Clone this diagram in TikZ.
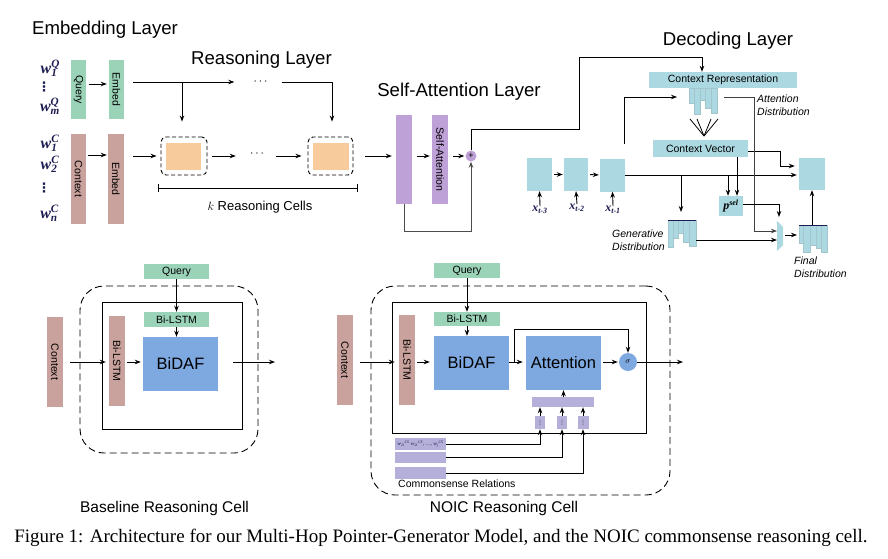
\documentclass[tikz,border=0pt]{standalone}
\usepackage{fontspec}
\setmainfont{Liberation Serif}
\setsansfont{Liberation Sans}
\newfontfamily\dotsfont{DejaVu Sans}
\usetikzlibrary{arrows.meta}

\definecolor{qgreen}{RGB}{155,211,185}
\definecolor{cbrown}{RGB}{201,161,157}
\definecolor{corange}{RGB}{247,203,155}
\definecolor{spurple}{RGB}{190,161,214}
\definecolor{dblue}{RGB}{172,216,225}
\definecolor{bblue}{RGB}{126,168,224}
\definecolor{lav}{RGB}{180,176,218}
\definecolor{navy}{RGB}{28,28,80}

\newcommand{\csw}[1]{w\textsubscript{#1}\textsuperscript{CS}}

\tikzset{
	box/.style={inner sep=0, font=\sffamily\fontsize{10.5}{11}\selectfont},
	vbox/.style={box, rotate=-90},
	arr/.style={-{Stealth[length=6pt,width=4.5pt]}, line width=.9pt},
	ln/.style={line width=.9pt},
	cell/.style={draw, dash pattern=on 4pt off 2.5pt, rounded corners=5pt, line width=.9pt},
	bigcell/.style={draw, dash pattern=on 7pt off 4pt, rounded corners=24pt, line width=.9pt},
	bar/.style={fill=dblue, draw=dblue!80!gray, line width=.4pt},
	lay/.style={font=\sffamily\fontsize{18.6}{20}\selectfont},
	dist/.style={font=\sffamily\itshape\fontsize{10.5}{13}\selectfont, align=left, anchor=west, inner sep=0},
	wlab/.style={font=\bfseries\itshape\fontsize{16}{16}\selectfont, text=navy, inner sep=0},
	wdots/.style={font=\dotsfont\bfseries\fontsize{13}{13}\selectfont, text=navy, inner sep=0},
	xlab/.style={font=\bfseries\itshape\fontsize{12}{13}\selectfont, text=navy, inner sep=0},
}

\begin{document}
\begin{tikzpicture}[x=1pt,y=-1pt]
	\path[use as bounding box] (0,0) rectangle (888,559);

	% embedding layer
	\node[lay] at (105,30) {Embedding Layer};
	\node[wlab] (wq1) at (49,68) {w\rlap{\textsuperscript{Q}}\textsubscript{1}};
	\node[wdots] (wqd) at (44,87) {⋮};
	\node[wlab] (wqm) at (50,106) {w\rlap{\textsuperscript{Q}}\textsubscript{m}};
	\node[wlab] (wc1) at (49,143) {w\rlap{\textsuperscript{C}}\textsubscript{1}};
	\node[wlab] (wc2) at (49,164) {w\rlap{\textsuperscript{C}}\textsubscript{2}};
	\node[wdots] (wcd) at (44,188) {⋮};
	\node[wlab] (wcn) at (49,213) {w\rlap{\textsuperscript{C}}\textsubscript{n}};

	\node[vbox, fill=qgreen, minimum width=59, minimum height=15] (query) at (78.5,89.5) {Query};
	\node[vbox, fill=qgreen, minimum width=59, minimum height=15] (qembed) at (116.5,89.5) {Embed};
	\node[vbox, fill=cbrown, minimum width=90, minimum height=15] (context) at (78.5,179) {Context};
	\node[vbox, fill=cbrown, minimum width=90, minimum height=16] (cembed) at (116,179) {Embed};

	\draw[arr, shorten <=3pt, shorten >=2pt] (query.north |- 0,84) -- (qembed.south |- 0,84);
	\draw[arr, shorten <=2pt, shorten >=1pt] (context.north |- 0,155) -- (cembed.south |- 0,155);

	% reasoning layer
	\node[lay] at (261.5,60) {Reasoning Layer};
	\node[cell, minimum width=46, minimum height=38] (cell1) at (184,156) {};
	\node[fill=corange, minimum width=35, minimum height=27, inner sep=0] (rc1) at (183.5,156.5) {};
	\node[cell, minimum width=45, minimum height=38] (cell2) at (330.5,156) {};
	\node[fill=corange, minimum width=36, minimum height=27, inner sep=0] (rc2) at (331,156.5) {};
	\node[inner sep=0, font=\fontsize{12}{12}\selectfont] (qdots) at (260.5,82) {$\cdots$};
	\node[inner sep=0, font=\fontsize{12}{12}\selectfont] (cdots) at (257,154) {$\cdots$};

	\draw[arr, shorten <=9pt, shorten >=19pt] (qembed.north |- qdots.west) -- (qdots.west);
	\draw[arr, shorten >=15pt] ([xshift=-2pt]cell1.north |- qdots.west) -- ([xshift=-2pt]cell1.north);
	\draw[arr, shorten <=14pt, shorten >=15pt] (qdots.east) -| ([xshift=1.5pt]cell2.north);
	\draw[arr, shorten <=9pt, shorten >=4pt] (cembed.north |- cell1.west) -- (cell1.west);
	\draw[arr, shorten <=5pt, shorten >=14pt] (cell1.east) -- (cdots.west |- cell1.east);
	\draw[arr, shorten <=12pt, shorten >=6pt] (cdots.east |- cell2.west) -- (cell2.west);

	\draw[ln, {Bar[width=8pt]}-{Bar[width=8pt]}] (158,188) -- (358,188);
	\node[font=\sffamily\fontsize{13}{14}\selectfont] at (260,207) {$k$ Reasoning Cells};

	% self-attention layer
	\node[lay] at (459,92) {Self-Attention Layer};
	\node[vbox, fill=spurple, minimum width=89, minimum height=16] (sa1) at (404,159.5) {};
	\node[vbox, fill=spurple, minimum width=89, minimum height=16] (sa2) at (440,159.5) {Self-Attention};
	\node[circle, fill=spurple, minimum size=11, inner sep=0, font=\sffamily\fontsize{9}{9}\selectfont] (plus) at (471,156) {+};

	\draw[arr, shorten <=12pt, shorten >=4pt] (cell2.east) -- (sa1.south |- cell2.east);
	\draw[arr, shorten <=5pt, shorten >=2pt] (sa1.north |- plus) -- (sa2.south |- plus);
	\draw[arr, shorten <=5pt, shorten >=1pt] (sa2.north |- plus) -- (plus.west);
	\draw[arr, draw=black!70] (sa1.east) -- ++(0,27) -| (plus.south);

	% decoding layer
	\node[lay] at (728,41) {Decoding Layer};
	\node[box, fill=dblue, minimum width=148, minimum height=16] (crep) at (723,80) {Context Representation};
	\node[box, fill=dblue, minimum width=95, minimum height=17] (cvec) at (700.5,148.5) {Context Vector};
	\node[box, fill=dblue, minimum width=25, minimum height=33] (xt3) at (539.5,174.5) {};
	\node[box, fill=dblue, minimum width=24, minimum height=33] (xt2) at (576,174.5) {};
	\node[box, fill=dblue, minimum width=25, minimum height=33] (xt1) at (612.5,175) {};
	\node[box, fill=dblue, minimum width=26, minimum height=32] (outb) at (812,174) {};
	\node[box, fill=dblue, minimum width=24, minimum height=20] (psel) at (731,206) {\bfseries\itshape\rmfamily\fontsize{12}{12}\selectfont p\textsuperscript{sel}};
	\node[xlab] (lx3) at (540,210) {x\textsubscript{t-3}};
	\node[xlab] (lx2) at (577,208) {x\textsubscript{t-2}};
	\node[xlab] (lx1) at (613,210) {x\textsubscript{t-1}};

	% attention, generative and final distributions
	\foreach \a/\b/\h in {689/694/103, 694/700/114, 700/705/100, 705/711/108, 711/717/113}
		\draw[bar] (\a,88) rectangle (\b,\h);
	\foreach \a/\b/\h in {668/673/247, 673/678/238, 678/683/233, 683/689/242, 689/696/246}
		\draw[bar] (\a,220) rectangle (\b,\h);
	\foreach \a/\b/\h in {799/803/243, 803/810/252, 810/816/245, 816/821/248, 821/827/252}
		\draw[bar] (\a,225) rectangle (\b,\h);
	\draw[navy, line width=1pt] (668,220) -- (696,220);
	\draw[navy, line width=1pt] (799,225) -- (827,225);
	\coordinate (adw) at (689,97);
	\coordinate (ade) at (717,97);
	\coordinate (gtop) at (681,220);
	\coordinate (gout) at (696,240);
	\coordinate (ftop) at (812,225);
	\coordinate (fin) at (799,235);
	\coordinate (fan) at (704,136);
	\foreach \s in {690,697,711,718}
		\draw[line width=.8pt] (\s,119) -- (fan);

	% switch
	\fill[dblue] (777,221) -- (783,227) -- (783,245) -- (777,251) -- cycle;
	\coordinate (muxw) at (777,236);
	\coordinate (muxe) at (783,235);

	\draw[arr] (lx3.north) -- (xt3.south);
	\draw[arr] (lx2.north) -- (xt2.south);
	\draw[arr] (lx1.north) -- (xt1.south);
	\draw[arr, shorten <=2pt, shorten >=1pt] (xt3.east) -- (xt2.west);
	\draw[arr, shorten <=2pt, shorten >=1pt] (xt2.east) -- (xt1.west);
	\draw[arr, shorten >=2pt] (xt1.east) -- (outb.west |- xt1.east);
	\draw[arr, shorten >=8pt] (gtop |- xt1.east) -- (gtop);
	\draw[arr] ([xshift=-3pt]psel.north |- xt1.east) -- ([xshift=-3pt]psel.north);
	\draw[arr] ([xshift=6pt]psel.north |- cvec.south) -- ([xshift=6pt]psel.north);
	\draw[arr, shorten >=4pt] ([yshift=-2.5pt]cvec.east) -| (780,166) -- (outb.west |- 0,166);
	\draw[arr, shorten >=12pt] ([shift={(-1,-14)}]xt1.north east) |- (adw);
	\draw[arr, draw=black!75, shorten <=7pt] (ade) -| (754,231) -- (muxw |- 0,231);
	\draw[arr] (gout) -- (muxw |- gout);
	\draw[arr, shorten >=4pt] (psel.east |- 0,204) -| (779,221);
	\draw[arr, shorten <=2pt, shorten >=2pt] (muxe) -- (fin);
	\draw[arr] (ftop) -- (outb.south);
	\draw[arr] (plus.north) -- ++(0,-21) -| (579,57) -| ([xshift=-21pt]crep.north);

	\node[dist] at (757,105.5) {Attention\\Distribution};
	\node[dist] at (612,240.5) {Generative\\Distribution};
	\node[dist] at (794,267.5) {Final\\Distribution};

	% baseline reasoning cell
	\node[box, fill=qgreen, minimum width=65, minimum height=15] (bquery) at (176.5,271.5) {Query};
	\node[bigcell, minimum width=178, minimum height=167] (bcell) at (169,369.5) {};
	\node[draw, line width=.9pt, minimum width=140, minimum height=127] (binner) at (172,365.5) {};
	\node[box, fill=qgreen, minimum width=65, minimum height=15] (bbil) at (176.5,319.5) {Bi-LSTM};
	\node[box, fill=bblue, minimum width=75, minimum height=54, font=\sffamily\fontsize{16.5}{17}\selectfont] (bbidaf) at (180.5,364) {BiDAF};
	\node[vbox, fill=cbrown, minimum width=90, minimum height=16] (bbilv) at (117,361) {Bi-LSTM};
	\node[vbox, fill=cbrown, minimum width=90, minimum height=16] (bctx) at (55,362) {Context};
	\coordinate (bout) at (275,362);

	\draw[arr, shorten <=7pt, shorten >=3pt] (bctx.north) -- (bbilv.south |- bctx.north);
	\draw[arr, shorten <=2pt, shorten >=2pt] (bbilv.north |- bctx.north) -- (bbidaf.west |- bctx.north);
	\draw[arr, shorten <=15pt] (bbidaf.east |- bout) -- (bout);
	\draw[arr] (bbil.north |- bquery.south) -- (bbil.north);
	\draw[arr] (bbil.south) -- (bbil.south |- bbidaf.north);
	\node[font=\sffamily\fontsize{15.5}{16}\selectfont] at (164.5,508) {Baseline Reasoning Cell};

	% noic reasoning cell
	\node[box, fill=qgreen, minimum width=66, minimum height=15] (nquery) at (467,270.5) {Query};
	\node[bigcell, minimum width=299, minimum height=209] (ncell) at (520.5,390.5) {};
	\node[draw, line width=.9pt, minimum width=254, minimum height=131] (ninner) at (519,367.5) {};
	\node[box, fill=qgreen, minimum width=66, minimum height=14] (nbil) at (467,319) {Bi-LSTM};
	\node[box, fill=bblue, minimum width=75, minimum height=54, font=\sffamily\fontsize{16.5}{17}\selectfont] (nbidaf) at (471.5,363) {BiDAF};
	\node[box, fill=bblue, minimum width=75, minimum height=54, font=\sffamily\fontsize{16.5}{17}\selectfont] (attn) at (563.5,363) {Attention};
	\node[circle, fill=bblue, minimum size=18, inner sep=0, font=\fontsize{8}{8}\selectfont] (sigma) at (628,362) {$\sigma$};
	\node[vbox, fill=cbrown, minimum width=90, minimum height=16] (nbilv) at (407,360) {Bi-LSTM};
	\node[vbox, fill=cbrown, minimum width=90, minimum height=16] (nctx) at (345,360) {Context};
	\node[box, fill=lav, minimum width=62, minimum height=10] (nbar) at (563,402) {};
	\node[box, fill=lav, minimum width=10, minimum height=13, font=\dotsfont\fontsize{6}{6}\selectfont] (s1) at (540,422.5) {⋮};
	\node[box, fill=lav, minimum width=10, minimum height=13, font=\dotsfont\fontsize{6}{6}\selectfont] (s2) at (562,422.5) {⋮};
	\node[box, fill=lav, minimum width=11, minimum height=13, font=\dotsfont\fontsize{6}{6}\selectfont] (s3) at (583,422.5) {⋮};
	\node[box, fill=lav, minimum width=51, minimum height=12, font=\rmfamily\itshape\fontsize{5.5}{6}\selectfont, text=navy] (r1) at (420.5,444) {\csw{2i} \csw{2i}, \ldots, \csw{j}};
	\node[box, fill=lav, minimum width=51, minimum height=11] (r2) at (420.5,457.5) {};
	\node[box, fill=lav, minimum width=51, minimum height=12] (r3) at (420.5,473) {};
	\coordinate (nout) at (683,362);

	\draw[arr, shorten <=7pt, shorten >=4pt] (nctx.north |- sigma) -- (nbilv.south |- sigma);
	\draw[arr, shorten <=2pt, shorten >=4pt] (nbilv.north |- sigma) -- (nbidaf.west |- sigma);
	\draw[arr, shorten >=3pt] (nbidaf.east |- sigma) -- (attn.west |- sigma);
	\draw[arr] ([xshift=5pt]nbidaf.east |- sigma) -- ++(0,-33) -| (sigma.north);
	\draw[arr, shorten <=2pt, shorten >=1pt] (attn.east |- sigma) -- (sigma.west);
	\draw[arr] (sigma.east) -- (nout);
	\draw[arr] (nbil.north |- nquery.south) -- (nbil.north);
	\draw[arr] (nbil.south) -- (nbil.south |- nbidaf.north);
	\draw[arr] (attn.south |- nbar.north) -- (attn.south);
	\draw[arr] (s1.north) -- (s1.north |- nbar.south);
	\draw[arr] (s2.north) -- (s2.north |- nbar.south);
	\draw[arr] (s3.north) -- (s3.north |- nbar.south);
	\draw[arr] (r1.east) -| (s1.south);
	\draw[arr] (r2.east) -| (s2.south);
	\draw[arr] (r3.east) -| (s3.south);
	\node[font=\sffamily\fontsize{10.5}{11}\selectfont, anchor=west, inner sep=0] at (398,484) {Commonsense Relations};
	\node[font=\sffamily\fontsize{15.5}{16}\selectfont] at (504,508) {NOIC Reasoning Cell};

	% caption
	\node[font=\fontsize{19}{20}\selectfont] at (441,538) {Figure 1: Architecture for our Multi-Hop Pointer-Generator Model, and the NOIC commonsense reasoning cell.};
\end{tikzpicture}
\end{document}
